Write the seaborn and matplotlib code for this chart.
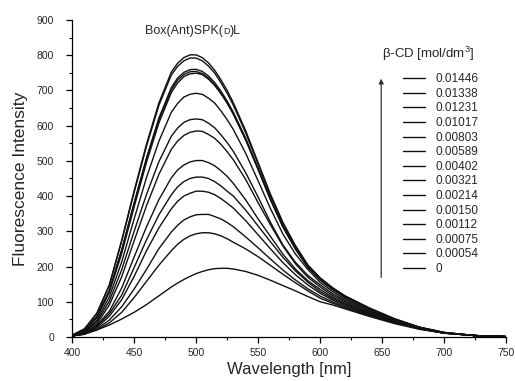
import numpy as np
import matplotlib
matplotlib.use("Agg")
import matplotlib.pyplot as plt
from matplotlib.lines import Line2D
from matplotlib.offsetbox import TextArea, HPacker, AnchoredOffsetbox
import pandas as pd
import seaborn as sns

# wavelength grid (nm)
wl = [400, 410, 420, 430, 440, 450, 460, 470, 480, 485, 490, 495, 500, 505, 510, 515, 520,
      525, 530, 540, 550, 560, 570, 580, 590, 600, 610, 620, 640, 660, 680, 700, 725, 750]

# beta-CD concentrations (mol/dm3), highest first
conc = ["0.01446", "0.01338", "0.01231", "0.01017", "0.00803", "0.00589", "0.00402",
        "0.00321", "0.00214", "0.00150", "0.00112", "0.00075", "0.00054", "0"]

# fluorescence intensity
i_01446 = [5, 23, 68, 148, 275, 415, 548, 665, 752, 777, 793, 801, 801, 793, 778, 757, 730, 700, 665, 585, 495, 405, 325, 260, 205, 168, 140, 117, 82, 52, 28, 13, 4, 1]
i_01338 = [5, 23, 67, 146, 272, 410, 542, 658, 744, 768, 784, 792, 792, 784, 769, 749, 722, 692, 658, 579, 490, 401, 322, 257, 203, 166, 139, 116, 81, 51, 28, 13, 4, 1]
i_01231 = [4, 18, 59, 132, 248, 381, 509, 622, 708, 735, 751, 759, 760, 754, 741, 722, 698, 670, 638, 564, 478, 392, 314, 251, 199, 163, 136, 114, 80, 50, 27, 12, 4, 1]
i_01017 = [4, 18, 58, 131, 246, 378, 505, 617, 702, 729, 745, 753, 754, 748, 735, 716, 692, 665, 633, 559, 475, 389, 312, 250, 198, 162, 135, 113, 79, 50, 27, 12, 4, 1]
i_00803 = [4, 16, 55, 127, 237, 369, 496, 608, 694, 721, 739, 747, 749, 745, 732, 714, 691, 664, 633, 560, 476, 390, 313, 251, 199, 162, 135, 113, 79, 50, 27, 12, 4, 1]
i_00589 = [3, 14, 48, 114, 213, 335, 453, 556, 638, 663, 681, 689, 692, 689, 678, 664, 642, 617, 589, 521, 443, 364, 292, 236, 192, 155, 129, 108, 76, 48, 26, 12, 4, 1]
i_00402 = [3, 12, 43, 102, 191, 300, 405, 498, 570, 593, 609, 617, 619, 617, 607, 594, 574, 552, 527, 466, 397, 325, 261, 212, 175, 148, 123, 104, 73, 47, 26, 12, 4, 1]
i_00321 = [3, 10, 37, 91, 171, 273, 373, 462, 533, 556, 572, 581, 585, 584, 575, 564, 547, 526, 503, 447, 381, 318, 258, 208, 170, 142, 118, 100, 71, 46, 25, 12, 4, 1]
i_00214 = [3, 11, 33, 73, 139, 227, 313, 390, 452, 474, 488, 497, 501, 501, 495, 486, 472, 456, 436, 389, 335, 285, 235, 193, 160, 135, 113, 96, 68, 45, 25, 11, 4, 1]
i_00150 = [3, 9, 30, 66, 119, 197, 276, 347, 404, 426, 441, 450, 454, 454, 450, 441, 429, 414, 400, 360, 315, 270, 226, 188, 156, 129, 109, 93, 66, 44, 24, 11, 4, 1]
i_00112 = [3, 8, 27, 59, 106, 172, 245, 310, 364, 385, 400, 408, 414, 414, 411, 404, 393, 380, 366, 330, 290, 250, 211, 177, 148, 124, 105, 90, 64, 43, 24, 11, 4, 1]
i_00075 = [3, 8, 23, 48, 86, 136, 192, 251, 298, 317, 332, 341, 347, 348, 348, 342, 335, 325, 313, 284, 253, 221, 190, 162, 137, 116, 100, 86, 62, 42, 23, 11, 4, 1]
i_00054 = [3, 8, 20, 40, 70, 112, 158, 204, 245, 263, 277, 287, 293, 296, 296, 293, 287, 279, 269, 250, 228, 203, 178, 154, 131, 110, 96, 83, 60, 40, 23, 11, 4, 1]
i_0 = [3, 10, 20, 34, 51, 70, 92, 117, 142, 153, 163, 172, 180, 186, 191, 194, 195, 195, 193, 186, 175, 161, 146, 131, 115, 100, 91, 80, 58, 38, 22, 11, 4, 1]

spectra = [i_01446, i_01338, i_01231, i_01017, i_00803, i_00589, i_00402,
           i_00321, i_00214, i_00150, i_00112, i_00075, i_00054, i_0]

rows = []
for c, s in zip(conc, spectra):
    for w, v in zip(wl, s):
        rows.append((c, w, v))
df = pd.DataFrame(rows, columns=["conc", "wl", "I"])

sns.set_style("ticks")
plt.rcParams["font.family"] = ["Liberation Sans", "DejaVu Sans"]
plt.rcParams["mathtext.default"] = "regular"

fig = plt.figure(figsize=(5.15, 3.81), dpi=100)
ax = fig.add_axes([0.140, 0.1155, 0.843, 0.832])

line_col = "#111111"
sns.lineplot(data=df, x="wl", y="I", hue="conc", hue_order=conc,
             palette=[line_col] * len(conc), linewidth=1.0, legend=False,
             sort=False, ax=ax)

ax.set_xlim(400, 750)
ax.set_ylim(0, 900)
ax.set_xticks(np.arange(400, 751, 50))
ax.set_yticks(np.arange(0, 901, 100))
ax.set_xticks(np.arange(425, 750, 50), minor=True)
ax.set_yticks(np.arange(50, 900, 100), minor=True)
ax.tick_params(which="major", direction="out", length=4, width=0.9, labelsize=7.5, color="black")
ax.tick_params(axis="x", which="major", pad=4)
ax.tick_params(axis="y", which="major", pad=9)
ax.tick_params(which="minor", direction="out", length=2.5, width=0.8, color="black")
for sp in ["top", "right"]:
    ax.spines[sp].set_visible(False)
for sp in ["left", "bottom"]:
    ax.spines[sp].set_linewidth(0.9)
    ax.spines[sp].set_color("black")

ax.set_xlabel("Wavelength [nm]", fontsize=12, labelpad=3)
ax.set_ylabel("Fluorescence Intensity", fontsize=12.5, labelpad=6)

# title with small-caps D
t1 = TextArea("Box(Ant)SPK(", textprops=dict(fontsize=9))
t2 = TextArea("D", textprops=dict(fontsize=6.5))
t3 = TextArea(")L", textprops=dict(fontsize=9))
box = HPacker(children=[t1, t2, t3], align="baseline", pad=0, sep=0)
anch = AnchoredOffsetbox(loc="center", child=box, frameon=False,
                         bbox_to_anchor=(0.278, 0.966), bbox_transform=ax.transAxes,
                         borderpad=0)
ax.add_artist(anch)

ax.text(0.714, 0.892, "\u03b2-CD [mol/dm$^3$]", transform=ax.transAxes,
        ha="left", va="center", fontsize=9.5)

handles = [Line2D([], [], color=line_col, linewidth=1.0) for _ in conc]
leg = ax.legend(handles, conc, loc="upper left", bbox_to_anchor=(0.7627, 0.832),
                frameon=False, fontsize=8.5, handlelength=1.86, handletextpad=0.85,
                labelspacing=0.22, borderpad=0, borderaxespad=0)

ax.annotate("", xy=(0.712, 0.815), xytext=(0.712, 0.188), xycoords="axes fraction",
            arrowprops=dict(arrowstyle="-|>", color="#333333", lw=0.9,
                            mutation_scale=7, shrinkA=0, shrinkB=0))

fig.savefig("out.png", dpi=100)
